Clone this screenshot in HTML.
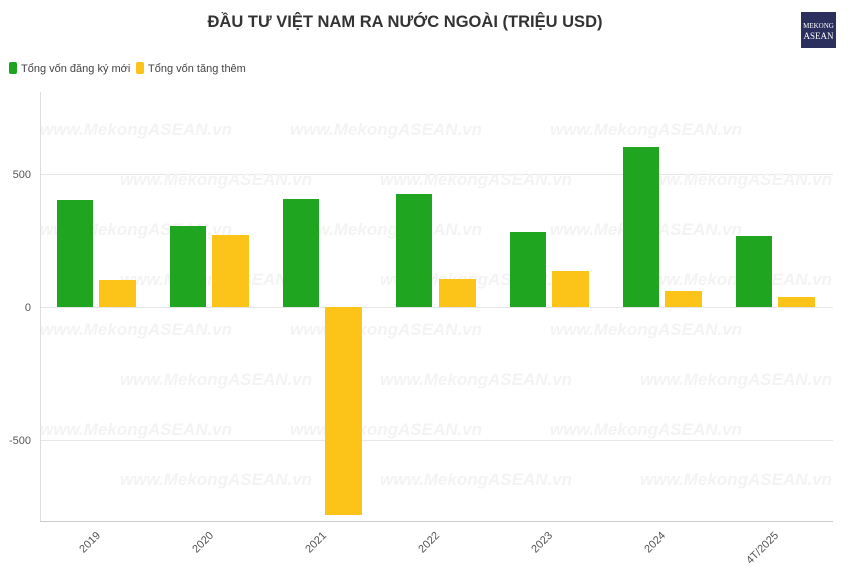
<!DOCTYPE html>
<html><head><meta charset="utf-8"><style>
body{margin:0;background:#fff;width:850px;height:578px;overflow:hidden;font-family:"Liberation Sans",sans-serif}
</style></head><body>
<svg width="850" height="578" xmlns="http://www.w3.org/2000/svg" font-family="Liberation Sans, sans-serif">
<rect width="850" height="578" fill="#fff"/>
<text x="405" y="27" text-anchor="middle" font-size="17" font-weight="bold" fill="#333" textLength="395" lengthAdjust="spacingAndGlyphs">ĐẦU TƯ VIỆT NAM RA NƯỚC NGOÀI (TRIỆU USD)</text>
<rect x="801" y="12" width="35" height="36" fill="#2b2f5e"/>
<text x="818.5" y="28" text-anchor="middle" font-size="7" fill="#fff" font-family="Liberation Serif, serif">MEKONG</text>
<text x="818.5" y="39" text-anchor="middle" font-size="9" fill="#fff" font-family="Liberation Serif, serif">ASEAN</text>
<rect x="9" y="62" width="8" height="12" rx="2" fill="#1fa51f"/>
<text x="21" y="72" font-size="11" fill="#444">Tổng vốn đăng ký mới</text>
<rect x="136" y="62" width="8" height="12" rx="2" fill="#fcc419"/>
<text x="148" y="72" font-size="11" fill="#444">Tổng vốn tăng thêm</text>
<g stroke="#e6e6e6" stroke-width="1">
<line x1="40" y1="174.5" x2="833" y2="174.5"/>
<line x1="40" y1="307.5" x2="833" y2="307.5"/>
<line x1="40" y1="440.5" x2="833" y2="440.5"/>
</g>
<line x1="40.5" y1="92" x2="40.5" y2="521" stroke="#ddd"/>
<line x1="40" y1="521.5" x2="833" y2="521.5" stroke="#ccc"/>
<g font-size="11" fill="#555" text-anchor="end">
<text x="31" y="178">500</text><text x="31" y="311">0</text><text x="31" y="444">-500</text>
</g>
<g font-size="17" font-style="italic" font-weight="bold" fill="#f3f3f3">
<text x="40" y="135">www.MekongASEAN.vn</text><text x="290" y="135">www.MekongASEAN.vn</text><text x="550" y="135">www.MekongASEAN.vn</text>
<text x="120" y="185">www.MekongASEAN.vn</text><text x="380" y="185">www.MekongASEAN.vn</text><text x="640" y="185">www.MekongASEAN.vn</text>
<text x="40" y="235">www.MekongASEAN.vn</text><text x="290" y="235">www.MekongASEAN.vn</text><text x="550" y="235">www.MekongASEAN.vn</text>
<text x="120" y="285">www.MekongASEAN.vn</text><text x="380" y="285">www.MekongASEAN.vn</text><text x="640" y="285">www.MekongASEAN.vn</text>
<text x="40" y="335">www.MekongASEAN.vn</text><text x="290" y="335">www.MekongASEAN.vn</text><text x="550" y="335">www.MekongASEAN.vn</text>
<text x="120" y="385">www.MekongASEAN.vn</text><text x="380" y="385">www.MekongASEAN.vn</text><text x="640" y="385">www.MekongASEAN.vn</text>
<text x="40" y="435">www.MekongASEAN.vn</text><text x="290" y="435">www.MekongASEAN.vn</text><text x="550" y="435">www.MekongASEAN.vn</text>
<text x="120" y="485">www.MekongASEAN.vn</text><text x="380" y="485">www.MekongASEAN.vn</text><text x="640" y="485">www.MekongASEAN.vn</text>
</g>
<g fill="#1fa51f">
<rect x="57" y="200" width="36" height="107"/>
<rect x="170" y="226" width="36" height="81"/>
<rect x="283" y="199" width="36" height="108"/>
<rect x="396" y="194" width="36" height="113"/>
<rect x="510" y="232" width="36" height="75"/>
<rect x="623" y="147" width="36" height="160"/>
<rect x="736" y="236" width="36" height="71"/>
</g>
<g fill="#fcc419">
<rect x="99" y="280" width="37" height="27"/>
<rect x="212" y="235" width="37" height="72"/>
<rect x="325" y="307" width="37" height="208"/>
<rect x="439" y="279" width="37" height="28"/>
<rect x="552" y="271" width="37" height="36"/>
<rect x="665" y="291" width="37" height="16"/>
<rect x="778" y="297" width="37" height="10"/>
</g>
<g font-size="11" fill="#555" text-anchor="end">
<text transform="translate(101,536) rotate(-45)">2019</text>
<text transform="translate(214,536) rotate(-45)">2020</text>
<text transform="translate(327,536) rotate(-45)">2021</text>
<text transform="translate(440,536) rotate(-45)">2022</text>
<text transform="translate(553,536) rotate(-45)">2023</text>
<text transform="translate(666,536) rotate(-45)">2024</text>
<text transform="translate(779,536) rotate(-45)">4T/2025</text>
</g>
</svg>
</body></html>
